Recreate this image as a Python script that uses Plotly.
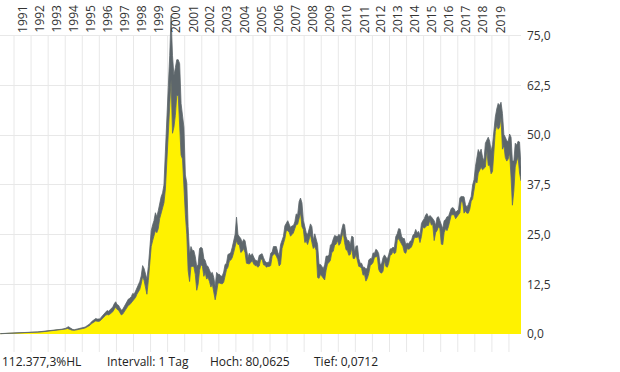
import plotly.graph_objects as go

# Monthly low / high values, March 1990 .. September 2020
lo_1990 = [0.07, 0.08, 0.09, 0.10, 0.11, 0.12, 0.10, 0.11, 0.13, 0.15]
hi_1990 = [0.10, 0.11, 0.12, 0.14, 0.15, 0.15, 0.14, 0.15, 0.17, 0.19]
lo_1991 = [0.17, 0.19, 0.21, 0.22, 0.23, 0.24, 0.25, 0.26, 0.27, 0.28, 0.30, 0.33]
hi_1991 = [0.21, 0.23, 0.25, 0.27, 0.28, 0.29, 0.30, 0.31, 0.32, 0.34, 0.36, 0.40]
lo_1992 = [0.36, 0.38, 0.40, 0.42, 0.44, 0.47, 0.50, 0.53, 0.57, 0.62, 0.68, 0.74]
hi_1992 = [0.42, 0.44, 0.47, 0.49, 0.52, 0.55, 0.58, 0.62, 0.67, 0.72, 0.78, 0.86]
lo_1993 = [0.78, 0.82, 0.84, 0.88, 0.90, 0.92, 0.90, 0.95, 1.00, 1.05, 1.10, 1.15]
hi_1993 = [0.90, 0.94, 0.98, 1.02, 1.04, 1.06, 1.06, 1.10, 1.15, 1.20, 1.26, 1.32]
lo_1994 = [1.25, 1.40, 1.35, 1.15, 0.98, 0.88, 0.92, 1.00, 1.05, 1.10, 1.18, 1.22]
hi_1994 = [1.45, 1.70, 1.85, 1.55, 1.25, 1.10, 1.08, 1.15, 1.22, 1.30, 1.38, 1.45]
lo_1995 = [1.30, 1.45, 1.60, 1.75, 1.95, 2.20, 2.60, 2.90, 3.10, 3.30, 3.20, 3.15]
hi_1995 = [1.55, 1.70, 1.85, 2.05, 2.30, 2.60, 3.05, 3.40, 3.70, 3.90, 3.75, 3.70]
lo_1996 = [3.3, 3.7, 4.0, 4.4, 4.7, 4.9, 4.8, 5.0, 5.3, 5.6, 6.2, 6.8]
hi_1996 = [3.8, 4.3, 4.7, 5.2, 5.6, 5.9, 5.7, 6.0, 6.3, 6.8, 7.6, 8.1]
lo_1997 = [6.2, 6.0, 5.4, 4.8, 5.0, 5.6, 6.2, 6.6, 7.2, 7.4, 7.8, 8.4]
hi_1997 = [7.4, 7.2, 6.6, 6.0, 6.2, 6.8, 7.6, 8.2, 8.8, 9.0, 9.4, 10.2]
lo_1998 = [8.6, 9.2, 10.0, 10.8, 11.2, 12.6, 14.4, 13.5, 11.5, 10.0, 13.5, 17.5]
hi_1998 = [10.0, 10.8, 11.6, 12.4, 13.2, 14.6, 17.2, 16.5, 14.8, 13.8, 17.0, 23.0]
lo_1999 = [22.0, 23.5, 24.5, 26.0, 25.5, 26.5, 29.0, 30.5, 31.5, 33.0, 36.5, 44.0]
hi_1999 = [26.0, 27.5, 28.5, 30.5, 29.5, 31.0, 33.0, 34.5, 35.5, 37.5, 46.0, 55.5]
lo_2000 = [50.0, 57.0, 64.0, 50.5, 52.0, 55.0, 60.0, 60.0, 53.0, 45.0, 44.0, 36.0]
hi_2000 = [62.0, 70.0, 80.06, 70.0, 65.0, 67.0, 69.0, 69.0, 68.0, 58.0, 55.0, 52.0]
lo_2001 = [30.0, 25.0, 16.0, 13.2, 17.0, 17.0, 17.0, 15.0, 11.0, 12.5, 16.0, 17.5]
hi_2001 = [40.0, 38.0, 27.0, 20.0, 22.0, 21.0, 21.0, 19.5, 17.0, 17.5, 21.5, 21.8]
lo_2002 = [17.0, 14.5, 15.5, 13.8, 14.2, 13.2, 11.8, 12.5, 10.2, 8.6, 10.5, 12.8]
hi_2002 = [21.5, 19.0, 18.5, 17.2, 17.0, 16.0, 15.2, 15.5, 14.2, 12.0, 15.5, 15.0]
lo_2003 = [12.8, 12.6, 12.6, 13.0, 15.0, 16.2, 16.8, 18.4, 18.6, 19.2, 20.5, 21.8]
hi_2003 = [15.0, 14.5, 14.6, 15.6, 17.5, 17.8, 20.0, 20.2, 20.5, 21.8, 23.2, 25.0]
lo_2004 = [23.5, 22.5, 22.5, 20.5, 20.8, 21.5, 20.5, 17.8, 17.6, 17.6, 18.0, 18.5]
hi_2004 = [29.4, 25.0, 24.5, 24.0, 23.0, 23.8, 23.5, 21.0, 19.2, 20.3, 19.6, 20.2]
lo_2005 = [17.6, 17.2, 17.2, 16.8, 17.1, 18.8, 18.8, 17.4, 17.3, 16.8, 17.0, 17.0]
hi_2005 = [19.5, 18.6, 18.5, 18.3, 19.8, 20.0, 20.2, 19.2, 18.3, 18.0, 18.0, 18.2]
lo_2006 = [17.2, 19.5, 20.0, 20.2, 19.6, 18.8, 17.1, 17.6, 21.5, 22.6, 24.0, 26.0]
hi_2006 = [20.3, 20.6, 22.0, 22.0, 22.0, 20.6, 19.7, 22.5, 23.5, 24.6, 27.2, 28.0]
lo_2007 = [26.0, 25.6, 24.6, 25.0, 25.4, 26.5, 27.5, 27.6, 29.0, 30.5, 27.0, 26.3]
hi_2007 = [28.5, 27.6, 26.8, 27.2, 27.2, 28.2, 30.2, 30.0, 33.3, 34.2, 33.0, 28.6]
lo_2008 = [23.0, 23.3, 22.5, 24.0, 25.0, 23.0, 21.5, 22.0, 21.0, 14.2, 14.0, 15.0]
hi_2008 = [27.2, 25.5, 25.0, 26.5, 27.7, 27.0, 23.6, 25.2, 24.0, 22.5, 17.5, 17.5]
lo_2009 = [14.6, 14.0, 13.6, 16.0, 17.6, 18.0, 18.5, 20.5, 20.8, 22.4, 22.6, 23.5]
hi_2009 = [17.0, 16.5, 17.4, 19.6, 19.6, 19.8, 22.3, 22.7, 23.9, 24.8, 24.6, 24.5]
lo_2010 = [22.3, 22.8, 24.3, 25.8, 23.0, 21.2, 21.0, 19.8, 20.0, 21.6, 19.0, 19.0]
hi_2010 = [25.1, 24.5, 26.2, 27.7, 27.5, 24.5, 23.5, 23.5, 22.4, 24.6, 24.4, 20.6]
lo_2011 = [20.0, 18.5, 17.0, 16.9, 16.5, 14.8, 15.0, 13.3, 14.0, 15.2, 17.2, 17.5]
hi_2011 = [22.1, 22.2, 19.0, 17.8, 17.8, 16.8, 16.8, 16.3, 16.6, 18.6, 19.0, 18.9]
lo_2012 = [18.0, 19.3, 19.5, 19.5, 16.2, 15.5, 15.3, 15.8, 18.5, 17.0, 16.8, 17.8]
hi_2012 = [20.4, 20.3, 21.3, 21.0, 20.2, 17.5, 17.6, 19.2, 19.9, 19.5, 18.8, 20.0]
lo_2013 = [19.8, 20.0, 20.8, 20.2, 20.5, 23.5, 24.0, 23.3, 23.0, 22.0, 20.5, 20.3]
hi_2013 = [21.4, 21.5, 21.8, 21.7, 24.5, 25.2, 26.5, 26.4, 24.6, 24.0, 24.0, 22.5]
lo_2014 = [21.5, 21.3, 21.5, 21.9, 22.8, 24.2, 24.3, 24.3, 24.5, 23.0, 24.5, 27.0]
hi_2014 = [22.9, 22.7, 23.3, 23.5, 24.8, 25.2, 26.3, 25.5, 25.8, 24.8, 27.8, 28.5]
lo_2015 = [26.6, 27.0, 27.3, 27.3, 28.7, 27.4, 27.6, 23.5, 25.5, 26.0, 27.0, 26.5]
hi_2015 = [29.0, 30.0, 30.3, 29.4, 29.8, 29.5, 29.0, 28.5, 27.3, 29.3, 29.5, 28.5]
lo_2016 = [22.6, 22.5, 25.5, 26.5, 26.0, 27.0, 28.5, 30.0, 30.0, 30.0, 29.0, 29.5]
hi_2016 = [27.5, 26.5, 28.5, 28.8, 29.5, 29.5, 30.6, 31.6, 31.8, 31.5, 30.6, 31.0]
lo_2017 = [30.0, 30.5, 33.3, 33.2, 30.4, 31.0, 30.4, 30.4, 31.4, 33.4, 34.0, 37.0]
hi_2017 = [31.1, 34.3, 34.6, 34.5, 34.5, 32.5, 31.9, 32.6, 33.8, 34.6, 37.5, 38.8]
lo_2018 = [38.5, 38.0, 40.5, 41.2, 42.0, 41.3, 41.8, 42.0, 46.4, 42.4, 42.5, 40.3]
hi_2018 = [42.2, 44.5, 46.4, 45.5, 46.5, 44.5, 43.5, 48.0, 49.0, 49.5, 48.5, 46.0]
lo_2019 = [40.9, 46.5, 51.0, 52.5, 51.5, 52.0, 54.5, 46.5, 47.4, 44.4, 43.5, 44.0]
hi_2019 = [47.6, 52.0, 54.6, 56.6, 58.0, 57.5, 58.3, 55.5, 50.2, 49.5, 48.6, 48.4]
lo_2020 = [45.5, 39.5, 32.4, 36.0, 42.0, 43.5, 44.5, 40.5, 38.5]
hi_2020 = [50.3, 49.5, 43.5, 43.5, 48.0, 47.5, 48.5, 48.3, 42.0]

years = list(range(1990, 2021))
year_labels = [str(y) for y in range(1991, 2020)]
y_ticks = [0, 12.5, 25, 37.5, 50, 62.5, 75]
footer = ["112.377,3%HL", "Intervall: 1 Tag", "Hoch: 80,0625", "Tief: 0,0712"]

g = globals()
dates, lo, hi = [], [], []
for yr in years:
    l = g[f"lo_{yr}"]
    h = g[f"hi_{yr}"]
    start = 3 if yr == 1990 else 1
    for i, (a, b) in enumerate(zip(l, h)):
        dates.append(f"{yr}-{start + i:02d}-15")
        lo.append(a)
        hi.append(b)

YEL = "#fff200"
GRAY = "#5d666b"
GRID = "#e8e8e8"
FONT = "Open Sans"
YMIN, YMAX = -4.53, 80.5

fig = go.Figure()
fig.add_trace(go.Scatter(x=dates, y=lo, mode="lines", fill="tozeroy",
                         fillcolor=YEL, line=dict(color=YEL, width=0.5),
                         hoverinfo="skip", showlegend=False))
fig.add_trace(go.Scatter(x=dates, y=lo, mode="lines",
                         line=dict(color=GRAY, width=0.8),
                         hoverinfo="skip", showlegend=False))
fig.add_trace(go.Scatter(x=dates, y=hi, mode="lines", fill="tonexty",
                         fillcolor=GRAY, line=dict(color=GRAY, width=0.8),
                         hoverinfo="skip", showlegend=False))

shapes = []
for yr in range(1991, 2021):
    shapes.append(dict(type="line", xref="x", yref="y",
                       x0=f"{yr}-01-01", x1=f"{yr}-01-01", y0=YMIN, y1=75,
                       line=dict(color=GRID, width=1), layer="below"))

annotations = []
for lab in year_labels:
    annotations.append(dict(x=f"{lab}-07-02", y=75, xref="x", yref="y",
                            text=lab, showarrow=False, textangle=-90,
                            xanchor="center", yanchor="bottom", yshift=1,
                            font=dict(family=FONT, size=12, color="#333333")))

footer_x = [0, 105, 208, 312]
for txt, px in zip(footer, footer_x):
    annotations.append(dict(x=px / 521, y=-(361 - 352) / 338, xref="paper",
                            yref="paper", text=txt, showarrow=False,
                            xanchor="left", yanchor="middle",
                            font=dict(family=FONT, size=12, color="#222222")))

fig.update_layout(
    width=620, height=372,
    margin=dict(l=0, r=99, t=14, b=20),
    paper_bgcolor="white", plot_bgcolor="white",
    separators=",.",
    hovermode=False,
    font=dict(family=FONT, size=12, color="#333333"),
    xaxis=dict(type="date", range=["1990-03-07", "2020-09-15"],
               showgrid=False, showticklabels=False, zeroline=False,
               showline=False, ticks=""),
    yaxis=dict(side="right", range=[YMIN, YMAX], tickvals=y_ticks,
               tickformat=".1f", showgrid=True, gridcolor=GRID, gridwidth=1,
               zeroline=False, showline=False, ticks="",
               ticklabelstandoff=5,
               tickfont=dict(family=FONT, size=12, color="#333333")),
    shapes=shapes,
    annotations=annotations,
)

fig.write_html("out.html",
               config={"displayModeBar": False, "staticPlot": True},
               post_script="document.body.style.margin='0';"
                           "document.body.style.padding='0';")
